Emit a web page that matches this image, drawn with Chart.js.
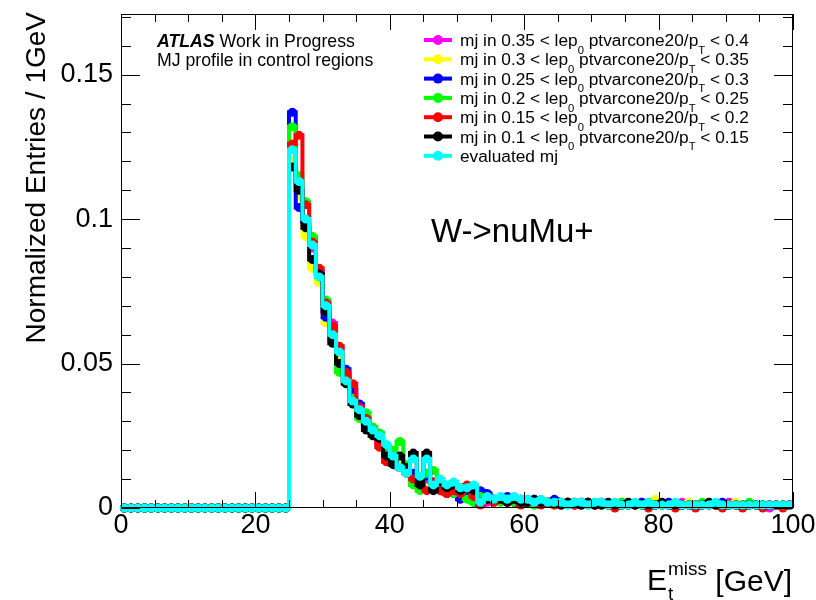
<!DOCTYPE html>
<html>
<head>
<meta charset="utf-8">
<script src="https://cdn.jsdelivr.net/npm/chart.js@4.4.0/dist/chart.umd.min.js"></script>
<style>
html, body { margin: 0; padding: 0; background: #fff; }
#wrap { width: 816px; height: 600px; }
</style>
</head>
<body>
<div id="wrap"><canvas id="metChart" width="816" height="600"></canvas></div>
<script>
// histogram binning: 100 bins of 1 GeV from 0 to 100
const binLow = 0;
const binWidth = 1;

const seriesLabels = [
  'mj in 0.35 < lep_0 ptvarcone20/p_T < 0.4',
  'mj in 0.3 < lep_0 ptvarcone20/p_T < 0.35',
  'mj in 0.25 < lep_0 ptvarcone20/p_T < 0.3',
  'mj in 0.2 < lep_0 ptvarcone20/p_T < 0.25',
  'mj in 0.15 < lep_0 ptvarcone20/p_T < 0.2',
  'mj in 0.1 < lep_0 ptvarcone20/p_T < 0.15',
  'evaluated mj'
];
const seriesColors = ['#ff00ff', '#ffff00', '#0000ff', '#00ff00', '#ff0000', '#000000', '#00ffff'];

const mj035 = [0,0,0,0,0,0,0,0,0,0, 0,0,0,0,0,0,0,0,0,0, 0,0,0,0,0,
  .125,.112,.098,.090,.081,.071,.064,.053,.046,.041,
  .034,.029,.026,.022,.019,.016,.015,.013,.011,.009,
  .008,.007,.006,.005,.006,.004,.005,.003,.004,.002,
  .002,.003,.002,.002,.003,.002,.001,.002,.002,.002,
  .001,.002,.001,.002,.001,.001,.002,.001,.001,.001,
  .001,.001,.002,.001,.001,.001,.001,.001,.002,.001,
  .001,.001,.001,.001,.001,.002,.001,.001,.001,.001,
  .001,0,.001,.001,.001];
const mj030 = [0,0,0,0,0,0,0,0,0,0, 0,0,0,0,0,0,0,0,0,0, 0,0,0,0,0,
  .120,.108,.094,.083,.078,.064,.061,.052,.046,.036,
  .033,.030,.025,.025,.021,.017,.016,.012,.009,.011,
  .007,.008,.006,.005,.006,.005,.004,.005,.005,.004,
  .003,.002,.003,.003,.002,.002,.002,.003,.002,.001,
  .002,.002,.001,.002,.001,.002,.001,.001,.002,.001,
  .001,.002,.001,.001,.003,.001,.001,.001,.001,.002,
  .001,.001,.001,.001,.001,.001,.002,.001,.001,.001,
  .001,.001,.001,.001,.001];
const mj025 = [0,0,0,0,0,0,0,0,0,0, 0,0,0,0,0,0,0,0,0,0, 0,0,0,0,0,
  .137,.104,.099,.093,.082,.066,.062,.050,.048,.041,
  .036,.029,.026,.024,.021,.017,.014,.013,.012,.010,
  .011,.009,.007,.005,.005,.003,.004,.002,.006,.005,
  .003,.003,.004,.002,.003,.002,.003,.002,.002,.003,
  .002,.002,.001,.002,.002,.001,.002,.001,.001,.002,
  .001,.001,.002,.001,.001,.001,.002,.001,.001,.001,
  .001,.001,.001,.001,.002,.001,.001,.001,.001,.001,
  .001,.001,.001,.001,.001];
const mj020 = [0,0,0,0,0,0,0,0,0,0, 0,0,0,0,0,0,0,0,0,0, 0,0,0,0,0,
  .132,.115,.106,.094,.080,.072,.058,.047,.044,.038,
  .031,.033,.028,.026,.021,.020,.023,.015,.008,.006,
  .012,.013,.009,.006,.005,.007,.003,.002,.004,.003,
  .003,.002,.003,.002,.002,.003,.001,.002,.002,.001,
  .002,.001,.002,.001,.001,.002,.001,.001,.001,.002,
  .001,.001,.001,.002,.001,.001,.001,.001,.001,.001,
  .001,.002,.001,.001,.001,.001,.001,.001,.002,.001,
  .001,.001,.001,.001,.001];
const mj015 = [0,0,0,0,0,0,0,0,0,0, 0,0,0,0,0,0,0,0,0,0, 0,0,0,0,0,
  .126,.129,.105,.092,.083,.071,.063,.056,.047,.043,
  .035,.031,.027,.021,.016,.018,.014,.012,.010,.008,
  .006,.009,.006,.005,.006,.005,.008,.004,.001,.003,
  .002,.003,.002,.003,.001,.002,.002,.001,.002,.001,
  .001,.002,.001,.001,.002,.001,.001,.001,0,.001,
  .001,.001,.001,0,.001,.001,.001,0,.001,.001,
  0,.001,.001,.001,0,.001,.001,0,.001,.001,
  0,.001,.001,0,.001];
const mj010 = [0,0,0,0,0,0,0,0,0,0, 0,0,0,0,0,0,0,0,0,0, 0,0,0,0,0,
  .118,.110,.097,.086,.081,.068,.057,.050,.043,.036,
  .032,.027,.025,.024,.018,.015,.018,.014,.019,.008,
  .019,.006,.009,.007,.008,.006,.007,.006,.002,.003,
  .003,.003,.002,.003,.002,.002,.003,.002,.002,.002,
  .001,.002,.002,.001,.002,.001,.001,.002,.001,.001,
  .002,.001,.001,.001,.001,.002,.001,.001,.001,.001,
  .001,.001,.002,.001,.001,.001,.001,.001,.001,.001,
  .001,.001,.001,.001,.001];
const evaluatedMj = [0,0,0,0,0,0,0,0,0,0, 0,0,0,0,0,0,0,0,0,0, 0,0,0,0,0,
  .124,.113,.100,.091,.080,.070,.060,.054,.044,.037,
  .034,.030,.027,.025,.022,.018,.014,.012,.017,.011,
  .017,.008,.010,.008,.009,.007,.007,.008,.002,.004,
  .003,.004,.003,.004,.003,.003,.002,.003,.002,.002,
  .002,.001,.002,.002,.001,.002,.002,.001,.002,.001,
  .001,.002,.001,.002,.001,.001,.001,.002,.001,.001,
  .001,.001,.001,.002,.001,.001,.001,.001,.001,.001,
  .001,.001,.001,.001,.001];
const seriesValues = [mj035, mj030, mj025, mj020, mj015, mj010, evaluatedMj];

const xTickLabels = [0, 20, 40, 60, 80, 100];
const xMinorTicks = [0, 5, 10, 15, 20, 25, 30, 35, 40, 45, 50, 55, 60, 65, 70, 75, 80, 85, 90, 95, 100];
const yTickLabels = [0, 0.05, 0.1, 0.15];
const yMinorTicks = [0, 0.01, 0.02, 0.03, 0.04, 0.05, 0.06, 0.07, 0.08, 0.09, 0.1, 0.11, 0.12, 0.13, 0.14, 0.15, 0.16, 0.17];

const FONT = "'Liberation Sans', Arial, Helvetica, sans-serif";

// text with "_x" subscripts, ROOT style
function drawSubText(ctx, str, x, y, size) {
  const parts = str.split(/_(\w)/);
  let cx = x;
  parts.forEach((p, i) => {
    if (i % 2 === 1) {
      ctx.font = (size * 0.65) + 'px ' + FONT;
      ctx.fillText(p, cx, y + size * 0.45);
    } else {
      ctx.font = size + 'px ' + FONT;
      ctx.fillText(p, cx, y);
    }
    cx += ctx.measureText(p).width;
  });
}

const rootFrame = {
  id: 'rootFrame',
  afterDatasetsDraw(chart) {
    const { ctx, chartArea: a, scales: { x, y } } = chart;
    ctx.save();
    ctx.strokeStyle = '#000';
    ctx.lineWidth = 1;
    ctx.strokeRect(a.left + 0.5, a.top + 0.5, a.right - a.left - 1, a.bottom - a.top - 1);
    ctx.beginPath();
    xMinorTicks.forEach(v => {
      const px = Math.round(x.getPixelForValue(v)) + 0.5;
      const len = xTickLabels.includes(v) ? 16 : 8;
      ctx.moveTo(px, a.bottom); ctx.lineTo(px, a.bottom - len);
      ctx.moveTo(px, a.top); ctx.lineTo(px, a.top + len);
    });
    yMinorTicks.forEach(v => {
      const py = Math.round(y.getPixelForValue(v)) + 0.5;
      const len = yTickLabels.some(t => Math.abs(t - v) < 1e-9) ? 19 : 10;
      ctx.moveTo(a.left, py); ctx.lineTo(a.left + len, py);
      ctx.moveTo(a.right, py); ctx.lineTo(a.right - len, py);
    });
    ctx.stroke();
    ctx.restore();
  },
  afterDraw(chart) {
    const { ctx } = chart;
    ctx.save();
    ctx.fillStyle = '#000';
    ctx.textBaseline = 'alphabetic';

    // ATLAS label
    ctx.font = 'italic bold 17.7px ' + FONT;
    ctx.fillText('ATLAS', 157, 47);
    const w = ctx.measureText('ATLAS ').width;
    ctx.font = '17.7px ' + FONT;
    ctx.fillText('Work in Progress', 157 + w, 47);
    ctx.fillText('MJ profile in control regions', 157, 66);

    // channel
    ctx.font = '33px ' + FONT;
    ctx.fillText('W->nuMu+', 431, 242);

    // legend
    seriesLabels.forEach((lab, i) => {
      const cy = 40 + i * 19.3;
      ctx.strokeStyle = seriesColors[i];
      ctx.lineWidth = 4;
      ctx.beginPath(); ctx.moveTo(424, cy); ctx.lineTo(452, cy); ctx.stroke();
      ctx.fillStyle = seriesColors[i];
      ctx.beginPath(); ctx.arc(438, cy, 5, 0, Math.PI * 2); ctx.fill();
      ctx.fillStyle = '#000';
      drawSubText(ctx, lab, 460, cy + 6, 17.3);
    });

    // y title
    ctx.save();
    ctx.translate(45, 12);
    ctx.rotate(-Math.PI / 2);
    ctx.font = '28px ' + FONT;
    ctx.textAlign = 'right';
    ctx.fillText('Normalized Entries / 1GeV', 0, 0);
    ctx.restore();

    // x title
    ctx.font = '30px ' + FONT;
    ctx.textAlign = 'left';
    ctx.fillText('E', 647, 590);
    ctx.font = '19px ' + FONT;
    ctx.fillText('miss', 668, 575);
    ctx.fillText('t', 668, 600);
    ctx.font = '30px ' + FONT;
    ctx.textAlign = 'right';
    ctx.fillText('[GeV]', 792, 591);
    ctx.restore();
  }
};

const datasets = seriesValues.map((vals, i) => ({
  label: seriesLabels[i],
  data: vals.map((v, k) => ({ x: binLow + (k + 0.5) * binWidth, y: v })),
  borderColor: seriesColors[i],
  backgroundColor: seriesColors[i],
  borderWidth: 4,
  stepped: 'middle',
  pointRadius: 4.5,
  pointBorderWidth: 0,
  pointHoverRadius: 4.5,
  fill: false,
  clip: 8,
  order: seriesValues.length - 1 - i
}));

const ctx = document.getElementById('metChart').getContext('2d');
const metChart = new Chart(ctx, {
  type: 'line',
  data: { datasets },
  options: {
    responsive: false,
    animation: false,
    devicePixelRatio: 1,
    layout: { padding: { top: 14, right: 23, left: 0, bottom: 0 } },
    plugins: { legend: { display: false }, tooltip: { enabled: false } },
    scales: {
      x: {
        type: 'linear',
        min: 0,
        max: 100,
        grid: { display: false, drawTicks: false },
        border: { display: false },
        afterBuildTicks: s => { s.ticks = xTickLabels.map(v => ({ value: v })); },
        afterFit: s => { s.height = 92; s.paddingLeft = 0; s.paddingRight = 0; },
        ticks: {
          autoSkip: false,
          maxRotation: 0,
          padding: 1,
          color: '#000',
          font: { family: FONT, size: 27 },
          callback: v => String(v)
        }
      },
      y: {
        type: 'linear',
        min: 0,
        max: 0.171,
        grid: { display: false, drawTicks: false },
        border: { display: false },
        afterBuildTicks: s => { s.ticks = yTickLabels.map(v => ({ value: v })); },
        afterFit: s => { s.width = 121; s.paddingTop = 0; s.paddingBottom = 0; },
        ticks: {
          autoSkip: false,
          padding: 8,
          color: '#000',
          font: { family: FONT, size: 27 },
          callback: v => String(Math.round(v * 100) / 100)
        }
      }
    }
  },
  plugins: [rootFrame]
});
</script>
</body>
</html>
